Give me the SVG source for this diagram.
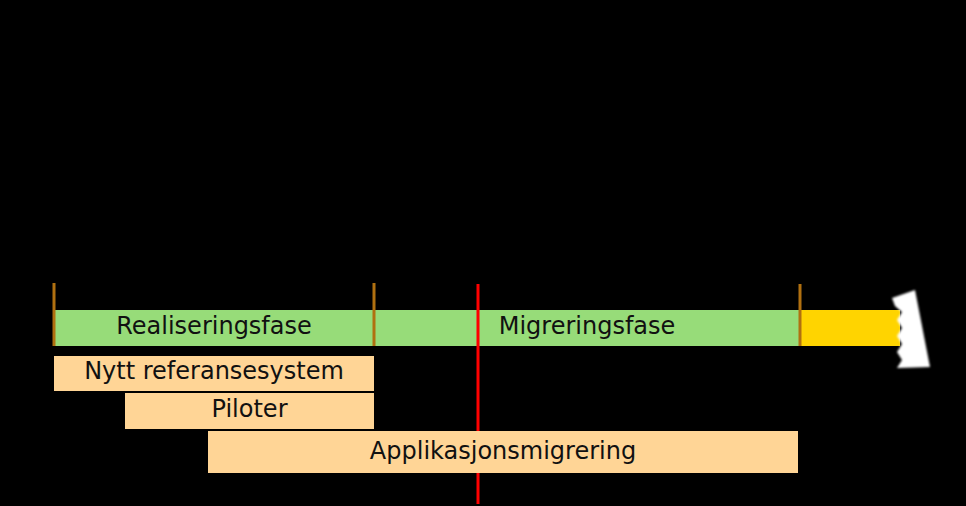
<svg xmlns="http://www.w3.org/2000/svg" width="966" height="506" viewBox="0 0 966 506">
<style>
text{font-family:"DejaVu Sans",Verdana,sans-serif;font-size:24px;fill:#111;text-anchor:middle}
.phase{fill:#97dc79}
.task{fill:#ffd596}
.tick{stroke:#b07010;stroke-width:3}
</style>
<defs>
<filter id="soft" x="-20%" y="-20%" width="140%" height="140%"><feGaussianBlur stdDeviation="1.2"/></filter>
</defs>
<rect width="966" height="506" fill="#000"/>
<g id="realiseringsfase">
<rect class="phase" x="54" y="310" width="320" height="36"/>
<text x="214" y="334">Realiseringsfase</text>
</g>
<g id="migreringsfase">
<rect class="phase" x="374" y="310" width="426" height="36"/>
<text x="587" y="334">Migreringsfase</text>
</g>
<g id="fremtid">
<rect x="800" y="310" width="100" height="36" fill="#ffd400"/>
<path d="M892,298 L915,290 L930,367 L897,368 L902,360 L897,352 L902,344 L897,336 L902,328 L897,320 L902,312 L895,306 Z" fill="#fff" filter="url(#soft)"/>
</g>
<g id="connectors">
<line class="tick" x1="54" y1="283" x2="54" y2="346"/>
<line class="tick" x1="374" y1="283" x2="374" y2="346"/>
<line class="tick" x1="800" y1="284" x2="800" y2="346"/>
<line x1="478" y1="284" x2="478" y2="504" stroke="#f00" stroke-width="3"/>
</g>
<g id="nytt-referansesystem">
<rect class="task" x="54" y="356" width="320" height="35"/>
<text x="214" y="379">Nytt referansesystem</text>
</g>
<g id="piloter">
<rect class="task" x="125" y="393" width="249" height="36"/>
<text x="249.5" y="417">Piloter</text>
</g>
<g id="applikasjonsmigrering">
<rect class="task" x="208" y="431" width="590" height="42"/>
<text x="503" y="459">Applikasjonsmigrering</text>
</g>
</svg>
